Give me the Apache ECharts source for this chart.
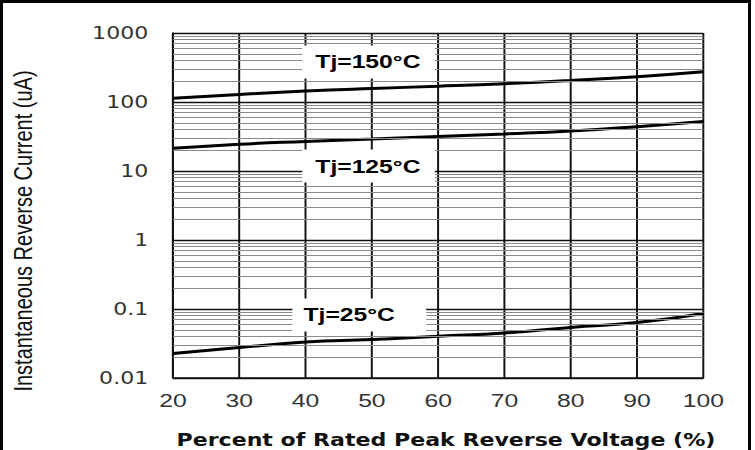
<!DOCTYPE html>
<html>
<head>
<meta charset="utf-8">
<script src="https://cdn.jsdelivr.net/npm/echarts@6/dist/echarts.min.js"></script>
<style>
  html, body { margin: 0; padding: 0; background: #fff; overflow: hidden; }
  #wrap { position: absolute; left: 0; top: 0; width: 755px; height: 450px; overflow: hidden; }
  #chart { position: absolute; left: 0; top: 0; width: 580.77px; height: 450px; transform: scaleX(1.3); transform-origin: 0 0; }
  #frame { position: absolute; left: 0; top: 0; width: 745px; height: 470px; border: 3px solid #000; border-bottom: none; pointer-events: none; }
</style>
</head>
<body>
<div id="wrap">
  <div id="chart"></div>
  <div id="frame"></div>
</div>
<script>
// ---- data ----
const xValues = [20, 30, 40, 50, 60, 70, 80, 90, 100];
const tj150 = [113, 128.5, 144, 157, 169, 184, 205, 233, 275];
const tj125 = [21.3, 24.4, 26.8, 29.1, 31.6, 34.4, 38.0, 43.9, 52.1];
const tj25 = [0.0227, 0.0276, 0.0332, 0.0362, 0.0404, 0.0449, 0.054, 0.0635, 0.086];
const seriesNames = ['Tj=150°C', 'Tj=125°C', 'Tj=25°C'];
const yTickLabels = ['0.01', '0.1', '1', '10', '100', '1000'];
const decades = [0.01, 0.1, 1, 10, 100];
const minorMultipliers = [2, 3, 4, 5, 6, 7, 8, 9];
const xTitle = 'Percent of Rated Peak Reverse Voltage (%)';
const yTitle = 'Instantaneous Reverse Current (uA)';

// ---- build ----
const S = 1.3; // horizontal stretch applied by CSS
const pairs = arr => xValues.map((x, i) => [x, arr[i]]);
const minorLines = [];
decades.forEach(d => minorMultipliers.forEach(m => minorLines.push({ yAxis: +(d * m).toPrecision(3) })));

const chart = echarts.init(document.getElementById('chart'), null, { renderer: 'svg' });

const curveStyle = { color: '#000', width: 3 };
const labelBase = {
  show: true, position: 'inside', formatter: '{b}', color: '#000',
  fontFamily: '"Liberation Sans", Arial, sans-serif', fontWeight: 'bold', fontSize: 19,
  backgroundColor: '#fff'
};

chart.setOption({
  animation: false,
  backgroundColor: '#fff',
  grid: { left: 173 / S, right: 52 / S, top: 33, bottom: 72, containLabel: false, outerBoundsMode: 'none' },
  xAxis: {
    type: 'value', min: 20, max: 100, interval: 10,
    name: xTitle, nameLocation: 'middle', nameGap: 54,
    nameTextStyle: { fontFamily: '"DejaVu Sans", sans-serif', fontWeight: 'bold', fontSize: 17, color: '#111', padding: [0, 0, 0, 12] },
    axisLine: { show: true, lineStyle: { color: '#111', width: 1.5 } },
    axisTick: { show: false },
    axisLabel: { color: '#333', fontSize: 19, fontFamily: '"Liberation Sans", Arial, sans-serif', margin: 13 },
    splitLine: { show: true, lineStyle: { color: '#111', width: 1.5 } }
  },
  yAxis: {
    type: 'log', logBase: 10, min: 0.01, max: 1000,
    axisLine: { show: true, lineStyle: { color: '#111', width: 1.5 } },
    axisTick: { show: false },
    axisLabel: {
      color: '#333', fontSize: 17, fontFamily: '"DejaVu Sans", sans-serif', margin: 19,
      formatter: v => yTickLabels[Math.round(Math.log10(v)) + 2]
    },
    splitLine: { show: true, lineStyle: { color: '#111', width: 1.3 } }
  },
  graphic: [{
    type: 'text', x: 23 / S, y: 231, rotation: Math.PI / 2, silent: true,
    style: {
      text: yTitle, fill: '#111',
      font: '20px "Liberation Sans", Arial, sans-serif',
      align: 'center', verticalAlign: 'middle', textAlign: 'center', textVerticalAlign: 'middle'
    }
  }],
  series: [
    {
      name: 'minor-grid', type: 'line', data: [], z: 1, silent: true,
      markLine: {
        silent: true, symbol: ['none', 'none'], label: { show: false }, animation: false,
        lineStyle: { color: '#8a8a8a', width: 1, type: 'solid' },
        emphasis: { disabled: true },
        data: minorLines
      }
    },
    { name: seriesNames[0], type: 'line', smooth: true, symbol: 'none', z: 3, lineStyle: curveStyle, data: pairs(tj150) },
    { name: seriesNames[1], type: 'line', smooth: true, symbol: 'none', z: 3, lineStyle: curveStyle, data: pairs(tj125) },
    { name: seriesNames[2], type: 'line', smooth: true, symbol: 'none', z: 3, lineStyle: curveStyle, data: pairs(tj25) },
    {
      name: 'labels', type: 'line', data: [], z: 5, silent: true,
      markPoint: {
        silent: true, symbol: 'rect', symbolSize: 1, itemStyle: { color: 'rgba(0,0,0,0)' }, animation: false,
        data: [
          { name: seriesNames[0], coord: [49.5, 380], label: Object.assign({}, labelBase, { padding: [7, 11, 7, 10] }) },
          { name: seriesNames[1], coord: [49.5, 11.8], label: Object.assign({}, labelBase, { padding: [7, 11, 7, 10] }) },
          { name: seriesNames[2], coord: [48.1, 0.0818], label: Object.assign({}, labelBase, { padding: [7, 24, 7, 8.5] }) }
        ]
      }
    }
  ]
});
</script>
</body>
</html>
